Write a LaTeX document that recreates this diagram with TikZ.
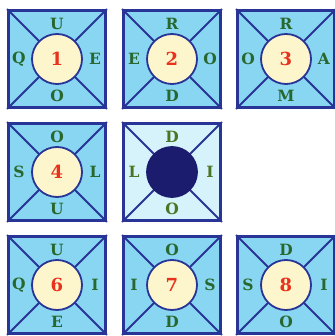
\documentclass[tikz,border=0pt]{standalone}
\usepackage{tikz}
\usepackage{xcolor}
\usepackage{fontspec}
\newfontfamily\slabfont{DejaVu Serif}
\definecolor{tileblue}{RGB}{136,214,242}
\definecolor{tilepale}{RGB}{214,242,250}
\definecolor{tileedge}{RGB}{40,52,150}
\definecolor{hubcream}{RGB}{253,246,204}
\definecolor{numred}{RGB}{232,50,30}
\definecolor{lettergreen}{RGB}{40,104,46}
\definecolor{olivegreen}{RGB}{72,118,34}
\definecolor{hubnavy}{RGB}{28,28,110}

\begin{document}
\begin{tikzpicture}[x=1pt, y=-1pt,
    tile/.style={draw=tileedge, line width=2.8pt, fill=tileblue,
                 minimum size=97pt, inner sep=0pt},
    diag/.style={draw=tileedge, line width=1.8pt},
    hub/.style={circle, draw=tileedge, line width=1.8pt, fill=hubcream,
                minimum size=50pt, inner sep=0pt,
                font=\slabfont\bfseries\fontsize{18}{18}\selectfont, text=numred},
    letter/.style={inner sep=0pt, font=\slabfont\bfseries\fontsize{15.5}{15.5}\selectfont,
                   text=lettergreen}]

    \useasboundingbox (0,0) rectangle (334,336);

    % Numbered tiles
    \foreach \n/\cx/\cy/\top/\rgt/\bot/\lft in {
        1/57/59/U/E/O/Q, 2/172/59/R/O/D/E, 3/286/59/R/A/M/O,
        4/57/172/O/L/U/S,
        6/57/285/U/I/E/Q, 7/172/285/O/S/D/I, 8/286/285/D/I/O/S} {
      \node[tile] (sq\n) at (\cx,\cy) {};
      \draw[diag] (sq\n.north west) -- (sq\n.south east);
      \draw[diag] (sq\n.north east) -- (sq\n.south west);
      \node[hub] (hub\n) at (sq\n.center) {\n};
      \node[letter] (t\n) at (\cx,\cy-35) {\top};
      \node[letter] (r\n) at (\cx+38,\cy) {\rgt};
      \node[letter] (b\n) at (\cx,\cy+37) {\bot};
      \node[letter] (l\n) at (\cx-38,\cy) {\lft};
    }

    % Blank tile
    \node[tile, fill=tilepale] (sq5) at (172,172) {};
    \draw[diag] (sq5.north west) -- (sq5.south east);
    \draw[diag] (sq5.north east) -- (sq5.south west);
    \node[hub, fill=hubnavy, draw=hubnavy] (hub5) at (sq5.center) {};
    \node[letter, text=olivegreen] (t5) at (172,137) {D};
    \node[letter, text=olivegreen] (r5) at (210,172) {I};
    \node[letter, text=olivegreen] (b5) at (172,209) {O};
    \node[letter, text=olivegreen] (l5) at (134,172) {L};
  \end{tikzpicture}
\end{document}
